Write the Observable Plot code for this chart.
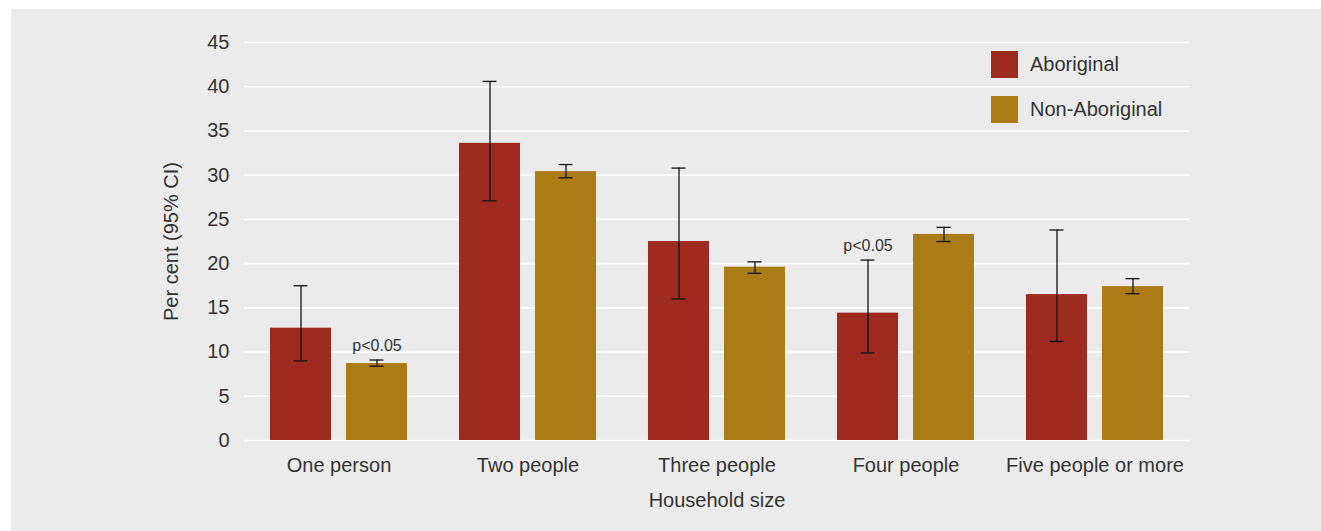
<!DOCTYPE html>
<html>
<head>
<meta charset="utf-8">
<script src="https://cdn.jsdelivr.net/npm/d3@7"></script>
<script src="https://cdn.jsdelivr.net/npm/@observablehq/plot@0.6"></script>
<style>
  html, body { margin: 0; padding: 0; background: #ffffff; }
  #panel { position: absolute; left: 11px; top: 9px; width: 1310px; height: 522px; background: #ebebeb;
           font-family: "Liberation Sans", Arial, sans-serif; color: #333; }
  #legend { position: absolute; left: 980px; top: 42px; }
  .item { display: flex; align-items: center; height: 27px; margin-bottom: 18px; font-size: 20px; color: #333; }
  .sw { width: 27px; height: 27px; margin-right: 12px; }
</style>
</head>
<body>
<div id="panel"><div id="legend"></div></div>
<script>
const groups = ["One person", "Two people", "Three people", "Four people", "Five people or more"];
const series = ["Aboriginal", "Non-Aboriginal"];
const colors = ["#9e2a20", "#ab7b15"];
const aboriginal    = [12.7, 33.6, 22.5, 14.4, 16.5];
const aboriginalLo  = [9.0, 27.1, 16.0, 9.9, 11.2];
const aboriginalHi  = [17.5, 40.6, 30.8, 20.4, 23.8];
const nonAboriginal   = [8.7, 30.4, 19.6, 23.3, 17.4];
const nonAboriginalLo = [8.4, 29.7, 18.9, 22.5, 16.6];
const nonAboriginalHi = [9.1, 31.2, 20.2, 24.1, 18.3];
const yTicks = [0, 5, 10, 15, 20, 25, 30, 35, 40, 45];
const notes = [
  {group: "One person", series: "Non-Aboriginal", text: "p<0.05"},
  {group: "Four people", series: "Aboriginal", text: "p<0.05"}
];

const rows = [];
groups.forEach((g, i) => {
  rows.push({group: g, series: series[0], value: aboriginal[i], lo: aboriginalLo[i], hi: aboriginalHi[i]});
  rows.push({group: g, series: series[1], value: nonAboriginal[i], lo: nonAboriginalLo[i], hi: nonAboriginalHi[i]});
});
const noteRows = notes.map(n => ({...n, hi: rows.find(r => r.group === n.group && r.series === n.series).hi}));

const chart = Plot.plot({
  width: 1310,
  height: 522,
  marginLeft: 232,
  marginRight: 132,
  marginTop: 33,
  marginBottom: 91,
  style: {background: "transparent", fontFamily: "Liberation Sans, Arial, sans-serif", fontSize: "20px", color: "#333"},
  fx: {domain: groups, padding: 0, label: "Household size", tickSize: 0, tickPadding: 17, labelAnchor: "center", labelOffset: 66, labelArrow: false},
  x: {domain: series, axis: null, paddingInner: 0.197, paddingOuter: 0.34},
  y: {domain: [0, 45], ticks: yTicks, tickSize: 0, tickPadding: 15, label: "Per cent (95% CI)", labelAnchor: "center", labelOffset: 81, labelArrow: false},
  color: {domain: series, range: colors},
  marks: [
    Plot.ruleY(yTicks, {y: d => d, stroke: "#ffffff", strokeWidth: 1.6}),
    Plot.barY(rows, {fx: "group", x: "series", y: "value", fill: "series"}),
    Plot.ruleX(rows, {fx: "group", x: "series", y1: "lo", y2: "hi", stroke: "#111", strokeWidth: 1.3}),
    Plot.tickY(rows, {fx: "group", x: "series", y: "lo", stroke: "#111", strokeWidth: 1.3, insetLeft: 23.5, insetRight: 23.5}),
    Plot.tickY(rows, {fx: "group", x: "series", y: "hi", stroke: "#111", strokeWidth: 1.3, insetLeft: 23.5, insetRight: 23.5}),
    Plot.text(noteRows, {fx: "group", x: "series", y: "hi", text: "text", dy: -9, lineAnchor: "bottom", fontSize: 16, fill: "#333"})
  ]
});
document.getElementById("panel").prepend(chart);

const legend = document.getElementById("legend");
series.forEach((s, i) => {
  const item = document.createElement("div");
  item.className = "item";
  const sw = document.createElement("div");
  sw.className = "sw";
  sw.style.background = colors[i];
  const lab = document.createElement("span");
  lab.textContent = s;
  item.append(sw, lab);
  legend.append(item);
});
</script>
</body>
</html>
